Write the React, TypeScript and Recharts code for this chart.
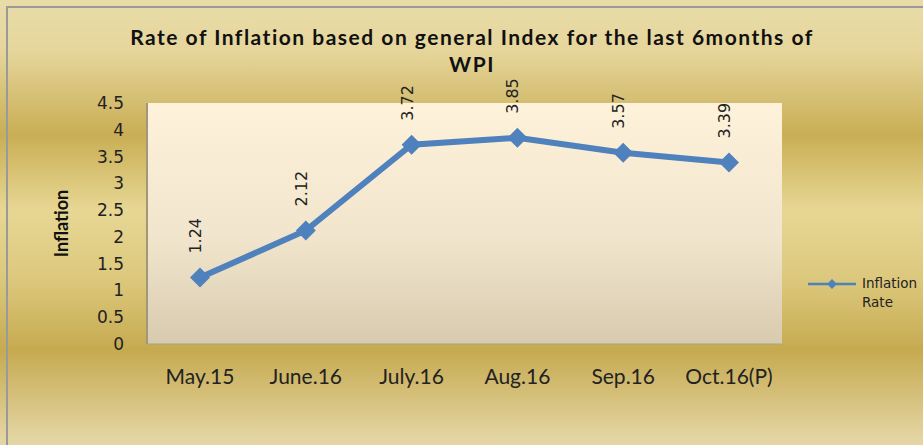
import React from "react";
import { LineChart, Line, XAxis, YAxis, CartesianGrid, LabelList, Label } from "recharts";

const months = ["May.15", "June.16", "July.16", "Aug.16", "Sep.16", "Oct.16(P)"];
const inflationRate = [1.24, 2.12, 3.72, 3.85, 3.57, 3.39];
const yTicks = [0, 0.5, 1, 1.5, 2, 2.5, 3, 3.5, 4, 4.5];

const data = months.map((m, i) => ({ month: m, rate: inflationRate[i] }));

const BLUE = "#4f81bd";

const Diamond = (props: any) => {
  const { cx, cy } = props;
  if (cx == null || cy == null) return null;
  const r = 10;
  return (
    <polygon
      points={`${cx},${cy - r} ${cx + r},${cy} ${cx},${cy + r} ${cx - r},${cy}`}
      fill={BLUE}
      stroke="none"
    />
  );
};

const RotatedLabel = (props: any) => {
  const { x, y, value } = props;
  const tx = x + 1;
  const ty = y - 24;
  return (
    <text
      x={tx}
      y={ty}
      transform={`rotate(-90, ${tx}, ${ty})`}
      textAnchor="start"
      fill="#222"
      fontSize={16}
      fontFamily="DejaVu Sans"
    >
      {value.toFixed(2)}
    </text>
  );
};

const LegendBox = () => (
  <div
    style={{
      position: "absolute",
      left: 808,
      top: 274,
      display: "flex",
      alignItems: "flex-start",
      fontFamily: "DejaVu Sans",
      fontSize: 13.5,
      color: "#222",
    }}
  >
    <svg width={50} height={16} style={{ marginTop: 2 }}>
      <line x1={0} y1={8} x2={48} y2={8} stroke={BLUE} strokeWidth={2.5} />
      <polygon points="24,3 29,8 24,13 19,8" fill={BLUE} />
    </svg>
    <div style={{ marginLeft: 4, lineHeight: "19px" }}>
      Inflation
      <br />
      Rate
    </div>
  </div>
);

const titleStyle = {
  fontFamily: "Lato",
  fontWeight: "bold",
  fontSize: 21,
  letterSpacing: 1.5,
  fill: "#111",
};

export default function App() {
  return (
    <div
      style={{
        position: "fixed",
        left: 0,
        top: 0,
        width: 923,
        height: 445,
        overflow: "hidden",
        background:
          "linear-gradient(to bottom, #e9dca8 0px, #e6d69c 50px, #c9ae55 135px, #e7d794 210px, #dcc87c 280px, #c6aa50 350px, #e4d6a4 440px)",
      }}
    >
      <div
        style={{
          position: "absolute",
          left: 6,
          top: 6,
          width: 940,
          height: 460,
          borderLeft: "2px solid #9a9a9a",
          borderTop: "2px solid #9a9a9a",
        }}
      />
      <svg width={0} height={0} style={{ position: "absolute" }}>
        <defs>
          <linearGradient id="plotBg" x1="0" y1="0" x2="0" y2="1">
            <stop offset="0%" stopColor="#fef2da" />
            <stop offset="55%" stopColor="#f1e6cd" />
            <stop offset="100%" stopColor="#d8caaf" />
          </linearGradient>
        </defs>
      </svg>
      <div style={{ position: "absolute", left: 0, top: 0 }}>
        <LineChart
          width={923}
          height={445}
          data={data}
          margin={{ top: 103, right: 141, bottom: 71, left: 67 }}
        >
          <CartesianGrid
            horizontal={false}
            vertical={false}
            fill="url(#plotBg)"
            fillOpacity={1}
            stroke="none"
          />
          <text x={472} y={45} textAnchor="middle" style={titleStyle}>
            Rate of Inflation based on general Index for the last 6months of
          </text>
          <text x={472} y={72} textAnchor="middle" style={titleStyle}>
            WPI
          </text>
          <XAxis
            dataKey="month"
            padding={{ left: 53, right: 53 }}
            axisLine={{ stroke: "#a8a08a", strokeWidth: 1 }}
            tickLine={false}
            tickMargin={19}
            tick={{ fill: "#222", fontSize: 21, fontFamily: "Lato" }}
            interval={0}
          />
          <YAxis
            width={80}
            domain={[0, 4.5]}
            ticks={yTicks}
            interval={0}
            axisLine={{ stroke: "#a09878", strokeWidth: 2 }}
            tickLine={false}
            tickSize={6}
            tickMargin={17}
            tick={{ fill: "#222", fontSize: 17, fontFamily: "DejaVu Sans" }}
          >
            <Label
              value="Inflation"
              angle={-90}
              position="insideLeft"
              offset={-5}
              style={{ fontFamily: "Lato", fontWeight: "bold", fontSize: 18, fill: "#111", textAnchor: "middle" }}
            />
          </YAxis>
          <Line
            type="linear"
            dataKey="rate"
            stroke={BLUE}
            strokeWidth={6}
            dot={<Diamond />}
            activeDot={false}
            isAnimationActive={false}
          >
            <LabelList dataKey="rate" content={<RotatedLabel />} />
          </Line>
        </LineChart>
      </div>
      <LegendBox />
    </div>
  );
}
